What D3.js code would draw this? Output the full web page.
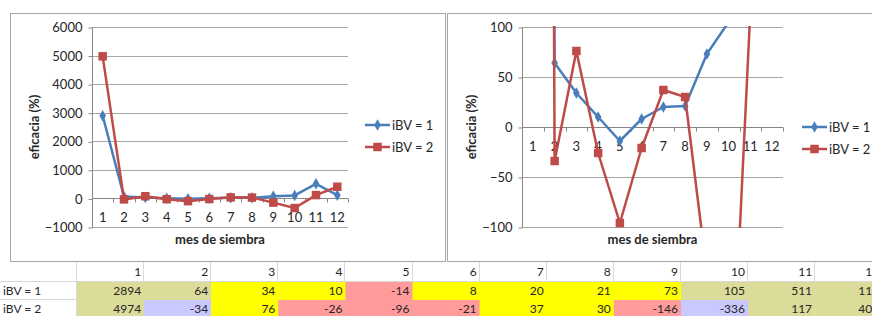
<!DOCTYPE html>
<html lang="es">
<head>
<meta charset="UTF-8">
<title>eficacia por mes de siembra</title>
<script src="https://cdn.jsdelivr.net/npm/d3@7"></script>
<style>
body{margin:0;background:#fff}
text{font-family:Lato,"Open Sans",sans-serif;fill:#262626}
</style>
</head>
<body>
<svg id="chart" width="872" height="316"></svg>
<script>
// data
const months=[1,2,3,4,5,6,7,8,9,10,11,12]
const seriesNames=['iBV = 1','iBV = 2']
const ibv1=[2894,64,34,10,-14,8,20,21,73,105,511,115]
const ibv2=[4974,-34,76,-26,-96,-21,37,30,-146,-336,117,409]
const ticksLeft=[-1000,0,1000,2000,3000,4000,5000,6000]
const ticksRight=[-100,-50,0,50,100]
// cell colour class for the table rows (k=khaki, y=yellow, p=pink, l=lilac)
const cells1=['k','k','y','y','p','y','y','y','y','k','k','k']
const cells2=['k','l','y','p','p','p','y','y','p','l','k','k']

const colors=['#4a7ebb','#be4b48']
const cellColor={k:'#dcdc9a',y:'#ffff00',p:'#ff9b9b',l:'#c9c9ff'}
const svg=d3.select('#chart')
const series=[ibv1,ibv2]

//chart boxes
svg.append('rect').attr('x',10.5).attr('y',13.5).attr('width',435).attr('height',248)
    .attr('fill','none').attr('stroke','#a6a6a6')
svg.append('rect').attr('x',447.5).attr('y',13.5).attr('width',440).attr('height',248)
    .attr('fill','none').attr('stroke','#a6a6a6')

function drawChart(c){
    let g=svg.append('g')
    let x=d3.scaleBand().domain(months).range(c.xr)
    let y=d3.scaleLinear().domain(c.yd).range([227,27])
    let bw=x.bandwidth()

    //grid
    g.selectAll('.grid').data(c.ticks.filter(t=>t!==0)).enter().append('line')
        .attr('x1',c.xr[0]).attr('x2',c.xr[1])
        .attr('y1',d=>Math.round(y(d))+.5).attr('y2',d=>Math.round(y(d))+.5)
        .attr('stroke','#a6a6a6')

    //y axis
    let ya=g.append('g').attr('transform','translate('+(c.xr[0]+.5)+',0.5)')
        .call(d3.axisLeft(y).tickValues(c.ticks).tickFormat(d3.format('d')).tickSize(4).tickPadding(6))
    ya.select('.domain').attr('stroke','#868686').attr('d','M0,'+Math.round(y(c.yd[1]))+'V'+Math.round(y(c.yd[0])))
    ya.selectAll('.tick line').attr('stroke','#868686')
    ya.selectAll('.tick text').attr('font-size',13).attr('fill','#262626').style('font-family','Lato,sans-serif')

    //x axis at 0
    let y0=Math.round(y(0))+.5
    let xa=g.append('g').attr('transform','translate(0,'+y0+')')
        .call(d3.axisBottom(x).tickSize(0).tickPadding(14))
    xa.select('.domain').attr('stroke','#868686').attr('d','M'+c.xr[0]+',0H'+c.xr[1])
    xa.selectAll('.tick text').attr('font-size',13).attr('fill','#262626').style('font-family','Lato,sans-serif')
    g.selectAll('.xt').data(months.slice(1).concat([13])).enter().append('line')
        .attr('x1',d=>Math.round(c.xr[0]+(d-1)*bw)+.5).attr('x2',d=>Math.round(c.xr[0]+(d-1)*bw)+.5)
        .attr('y1',y0).attr('y2',y0+4).attr('stroke','#868686')

    //lines
    let clipId='clip'+c.id
    g.append('clipPath').attr('id',clipId).append('rect')
        .attr('x',c.xr[0]).attr('y',y(c.yd[1])-1).attr('width',c.xr[1]-c.xr[0]).attr('height',y(c.yd[0])-y(c.yd[1])+2)
    let plot=g.append('g').attr('clip-path','url(#'+clipId+')')
    let line=d3.line().x((d,i)=>x(months[i])+bw/2).y(d=>y(d))
    series.forEach((s,si)=>{
        plot.append('path').attr('d',line(s)).attr('fill','none')
            .attr('stroke',colors[si]).attr('stroke-width',2.5).attr('stroke-linejoin','round')
        let sym=si===0?d3.symbol(d3.symbolDiamond,38):d3.symbol(d3.symbolSquare,72)
        plot.selectAll('.m'+si).data(s.map((v,i)=>[months[i],v]).filter(d=>d[1]>=c.yd[0]&&d[1]<=c.yd[1]))
            .enter().append('path').attr('d',sym)
            .attr('transform',d=>'translate('+(x(d[0])+bw/2)+','+y(d[1])+')')
            .attr('fill',colors[si])
    })

    //titles
    g.append('text').attr('transform','translate('+c.ytx+',127) rotate(-90)')
        .attr('text-anchor','middle').attr('font-size',13).attr('font-weight','bold').text('eficacia (%)')
    g.append('text').attr('x',(c.xr[0]+c.xr[1])/2).attr('y',244)
        .attr('text-anchor','middle').attr('font-size',13).attr('font-weight','bold').text('mes de siembra')

    //legend
    seriesNames.forEach((n,i)=>{
        let ly=c.ly+i*22
        g.append('line').attr('x1',c.lx).attr('x2',c.lx+25).attr('y1',ly).attr('y2',ly)
            .attr('stroke',colors[i]).attr('stroke-width',2.5)
        g.append('path').attr('d',i===0?d3.symbol(d3.symbolDiamond,38):d3.symbol(d3.symbolSquare,72))
            .attr('transform','translate('+(c.lx+12.5)+','+ly+')').attr('fill',colors[i])
        g.append('text').attr('x',c.lx+27).attr('y',ly+4.5).attr('font-size',13).text(n)
    })
}

drawChart({id:'L',xr:[92,348],yd:[-1000,6000],ticks:ticksLeft,ytx:39,lx:365,ly:125})
drawChart({id:'R',xr:[522,783],yd:[-100,100],ticks:ticksRight,ytx:476,lx:802,ly:127})

//table
let tx=d3.scaleBand().domain(months).range([77,77+12*67.1])
let rowsY=[262,281,299]
let rowH=[19,18,18]
let tg=svg.append('g')
//header & label borders
tg.append('line').attr('x1',0).attr('x2',872).attr('y1',rowsY[1]+.5).attr('y2',rowsY[1]+.5).attr('stroke','#d9d9d9')
tg.append('line').attr('x1',0).attr('x2',77).attr('y1',rowsY[2]+.5).attr('y2',rowsY[2]+.5).attr('stroke','#d9d9d9')
tg.selectAll('.vb').data([0].concat(months)).enter().append('line')
    .attr('x1',d=>Math.round(d===0?77:tx(d)+tx.bandwidth())-.5).attr('x2',d=>Math.round(d===0?77:tx(d)+tx.bandwidth())-.5)
    .attr('y1',rowsY[0]).attr('y2',316).attr('stroke','#d9d9d9')
tg.selectAll('.hd').data(months).enter().append('text')
    .attr('x',d=>tx(d)+tx.bandwidth()-3).attr('y',rowsY[0]+14).attr('text-anchor','end')
    .attr('font-size',12).text(d=>d)
;[[ibv1,cells1],[ibv2,cells2]].forEach((r,ri)=>{
    let yy=rowsY[ri+1]
    tg.append('text').attr('x',3).attr('y',yy+13.5).attr('font-size',12).text(seriesNames[ri])
    tg.selectAll('.c'+ri).data(months).enter().append('rect')
        .attr('x',d=>tx(d)).attr('y',yy+1).attr('width',tx.bandwidth()+.5).attr('height',rowH[ri+1])
        .attr('fill',(d,i)=>cellColor[r[1][i]])
    tg.selectAll('.t'+ri).data(months).enter().append('text')
        .attr('x',d=>tx(d)+tx.bandwidth()-3).attr('y',yy+13.5).attr('text-anchor','end')
        .attr('font-size',12).text((d,i)=>r[0][i])
})
</script>
</body>
</html>
